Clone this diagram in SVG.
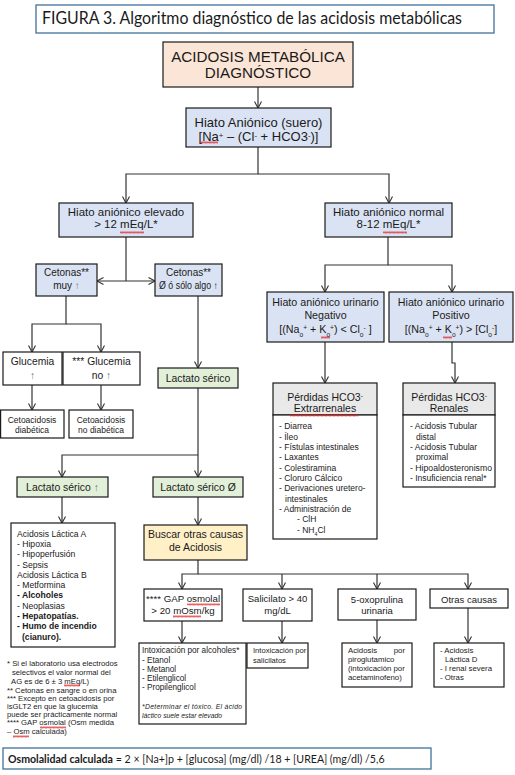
<svg xmlns="http://www.w3.org/2000/svg" width="515" height="775" viewBox="0 0 515 775">
<defs>
<marker id="ah" viewBox="-8 -5 10 10" refX="0" refY="0" markerWidth="10" markerHeight="10" markerUnits="userSpaceOnUse" orient="auto-start-reverse">
<path d="M-6.5,-3.5 L0,0 L-6.5,3.5" fill="none" stroke="#333" stroke-width="1.1"/>
</marker>
<pattern id="wave" width="4" height="3" patternUnits="userSpaceOnUse"><path d="M0,2.5 L1,0.5 L2,2.5 L3,0.5 L4,2.5" fill="none" stroke="#e02020" stroke-width="0.7"/></pattern>
<style>
.b{fill:#fff;stroke:#1a1a1a;stroke-width:1.2}
.blue{fill:#DAE3F3}
.green{fill:#E2F0D9}
.gray{fill:#E9E9E9}
.peach{fill:#FBE5D6}
.yel{fill:#FFF0C8}
.t{font-family:"Liberation Sans",Arial,sans-serif;fill:#1a1a1a}
.c{text-anchor:middle}
.e{text-anchor:end}
.bd{font-weight:bold}
.sup{font-size:62%;baseline-shift:super}
.sup2{font-size:60%;baseline-shift:35%}
.sub{font-size:62%;baseline-shift:sub}
.ga{fill:#777}
.ln{fill:none;stroke:#333;stroke-width:1.2}
.ar{fill:none;stroke:#333;stroke-width:1.2;marker-end:url(#ah)}
.sq{fill:url(#wave)}
.frame{fill:#fff;stroke:#41719C;stroke-width:1.3}
</style>
</defs>
<rect width="515" height="775" fill="#fff"/>

<g id="title">
<rect class="frame" x="36" y="5" width="458" height="28"/>
<text x="42" y="24" font-family="Lato, 'Open Sans', sans-serif" font-size="17" textLength="420" lengthAdjust="spacingAndGlyphs" fill="#1a1a1a">FIGURA 3. Algoritmo diagnóstico de las acidosis metabólicas</text>
</g>

<g id="connectors">
<path class="ar" d="M258,87 V108"/>
<path class="ar" d="M258,147 V174 H126 V203"/>
<path class="ar" d="M258,174 H389 V203"/>
<path class="ln" d="M126,237 V281"/>
<path class="ar" d="M97,281 H155" marker-start="url(#ah)"/>
<path class="ar" d="M66,296 V324 H32 V352"/>
<path class="ar" d="M66,324 H101 V352"/>
<path class="ar" d="M32,385 V410"/>
<path class="ar" d="M101,385 V410"/>
<path class="ar" d="M198,296 V368"/>
<path class="ar" d="M198,388 V477"/>
<path class="ar" d="M198,455 H62 V477"/>
<path class="ar" d="M62,497 V523"/>
<path class="ar" d="M198,497 V525"/>
<path class="ar" d="M198,560 V574 H182 V589"/>
<path class="ar" d="M198,574 H468 V589"/>
<path class="ar" d="M282,574 V589"/>
<path class="ar" d="M377,574 V589"/>
<path class="ar" d="M182,621 V643"/>
<path class="ar" d="M282,621 V643"/>
<path class="ar" d="M377,620 V643"/>
<path class="ar" d="M468,608 V643"/>
<path class="ar" d="M388,237 V265 H325 V292"/>
<path class="ar" d="M388,265 H452 V292"/>
<path class="ar" d="M325,342 V383"/>
<path class="ar" d="M452,342 V363 H455 V383"/>
</g>

<g id="n-acidosis">
<rect class="b peach" x="163" y="42" width="190" height="45"/>
<text class="t c" x="258" y="62" font-size="15.2">ACIDOSIS METABÓLICA</text>
<text class="t c" x="258" y="78" font-size="15.2">DIAGNÓSTICO</text>
</g>

<g id="n-suero">
<rect class="b blue" x="186" y="108" width="145" height="39"/>
<text class="t c" x="258.5" y="126.5" font-size="13">Hiato Aniónico (suero)</text>
<text class="t c" x="258.5" y="140.5" font-size="13">[Na<tspan class="sup2">+</tspan> – (Cl<tspan class="sup2">-</tspan> + HCO3<tspan class="sup2">-</tspan>)]</text>
<rect class="sq" x="200" y="141" width="18" height="3"/>
</g>

<g id="n-elevado">
<rect class="b blue" x="59" y="203" width="134" height="34"/>
<text class="t c" x="126" y="216" font-size="11.5">Hiato aniónico elevado</text>
<text class="t c" x="126" y="228" font-size="11.5">&gt; 12 mEq/L*</text>
<rect class="sq" x="120" y="231" width="24" height="3"/>
</g>

<g id="n-normal">
<rect class="b blue" x="325" y="203" width="127" height="34"/>
<text class="t c" x="388.5" y="216" font-size="11.5">Hiato aniónico normal</text>
<text class="t c" x="388.5" y="228" font-size="11.5">8-12 mEq/L*</text>
<rect class="sq" x="383" y="231" width="24" height="3"/>
</g>

<g id="n-cetonas-muy">
<rect class="b blue" x="36" y="264" width="61" height="32"/>
<text class="t c" x="66.5" y="276" font-size="10">Cetonas**</text>
<text class="t c" x="66.5" y="289" font-size="10">muy <tspan class="ga">↑</tspan></text>
</g>

<g id="n-cetonas-algo">
<rect class="b blue" x="155" y="264" width="67" height="32"/>
<text class="t c" x="188.5" y="276" font-size="10">Cetonas**</text>
<text class="t c" x="188.5" y="289" font-size="10" textLength="59" lengthAdjust="spacingAndGlyphs">Ø ó sólo algo ↑</text>
</g>

<g id="n-glucemia">
<rect class="b" x="3" y="352" width="59" height="33"/>
<text class="t c" x="32.5" y="365" font-size="10.3">Glucemia</text>
<text class="t c ga" x="32.5" y="379" font-size="10.3">↑</text>
</g>

<g id="n-glucemia-no">
<rect class="b" x="63" y="352" width="77" height="33"/>
<text class="t c" x="101.5" y="365" font-size="10.3">*** Glucemia</text>
<text class="t c" x="101.5" y="379" font-size="10.3">no <tspan class="ga">↑</tspan></text>
</g>

<g id="n-cad">
<rect class="b" x="0.6" y="410" width="63.4" height="28"/>
<text class="t c" x="32" y="423" font-size="8.5">Cetoacidosis</text>
<text class="t c" x="32" y="432.5" font-size="8.5">diabética</text>
</g>

<g id="n-cand">
<rect class="b" x="69" y="410" width="64" height="28"/>
<text class="t c" x="101" y="423" font-size="8.5">Cetoacidosis</text>
<text class="t c" x="101" y="432.5" font-size="8.5">no diabética</text>
</g>

<g id="n-lactato">
<rect class="b green" x="158" y="368" width="80" height="20"/>
<text class="t c" x="198" y="381.5" font-size="10.4">Lactato sérico</text>
</g>

<g id="n-lactato-alto">
<rect class="b green" x="17" y="477" width="91" height="20"/>
<text class="t c" x="62.5" y="490.5" font-size="10.4">Lactato sérico <tspan class="ga">↑</tspan></text>
</g>

<g id="n-lactato-normal">
<rect class="b green" x="153" y="477" width="90" height="20"/>
<text class="t c" x="198" y="490.5" font-size="10.4">Lactato sérico Ø</text>
</g>

<g id="n-lactica">
<rect class="b" x="11" y="523" width="104" height="124"/>
<g class="t" font-size="8.6">
<text x="17" y="537">Acidosis Láctica A</text>
<text x="17" y="547">- Hipoxia</text>
<text x="17" y="557">- Hipoperfusión</text>
<text x="17" y="567.5">- Sepsis</text>
<text x="17" y="577.5">Acidosis Láctica B</text>
<text x="17" y="588">- Metformina</text>
<text x="17" y="598" class="bd">- Alcoholes</text>
<text x="17" y="608.5">- Neoplasias</text>
<text x="17" y="619" class="bd">- Hepatopatías.</text>
<text x="17" y="629" class="bd">- Humo de incendio</text>
<text x="22" y="639.5" class="bd">(cianuro).</text>
</g>
</g>

<g id="n-buscar">
<rect class="b yel" x="144" y="525" width="103" height="35"/>
<text class="t c" x="195.5" y="538" font-size="10.5">Buscar otras causas</text>
<text class="t c" x="195.5" y="551" font-size="10.5">de Acidosis</text>
</g>

<g id="n-gap">
<rect class="b" x="144" y="589" width="78" height="32"/>
<text class="t c" x="183" y="602" font-size="9.7">**** GAP osmolal</text>
<text class="t c" x="183" y="614" font-size="9.7">&gt; 20 mOsm/kg</text>
<rect class="sq" x="187" y="603" width="33" height="3"/>
<rect class="sq" x="173" y="615" width="28" height="3"/>
</g>

<g id="n-salicilato">
<rect class="b" x="243" y="589" width="69" height="32"/>
<text class="t c" x="277.5" y="602" font-size="9.5">Salicilato &gt; 40</text>
<text class="t c" x="277.5" y="614" font-size="9.5">mg/dL</text>
</g>

<g id="n-oxoprolina">
<rect class="b" x="338" y="589" width="78" height="31"/>
<text class="t c" x="377" y="603" font-size="9.5">5-oxoprulina</text>
<text class="t c" x="377" y="614" font-size="9.5">urinaria</text>
</g>

<g id="n-otras">
<rect class="b" x="430" y="589" width="78" height="19"/>
<text class="t c" x="469" y="602.5" font-size="9.5">Otras causas</text>
</g>

<g id="n-alcoholes">
<rect class="b" x="139" y="643" width="107" height="81"/>
<g class="t" font-size="8.2">
<text x="142" y="653">Intoxicación por alcoholes*</text>
<text x="142" y="662.5">- Etanol</text>
<text x="142" y="671.5">- Metanol</text>
<text x="142" y="680.5">- Etilenglicol</text>
<text x="142" y="689.5">- Propilenglicol</text>
</g>
<text class="t" x="142" y="709" font-size="6.8" font-style="italic" textLength="100" lengthAdjust="spacing">*Determinar el tóxico. El ácido</text>
<text class="t" x="142" y="718" font-size="6.8" font-style="italic">láctico suele estar elevado</text>
</g>

<g id="n-salicilatos">
<rect class="b" x="247" y="643" width="61" height="25"/>
<text class="t" x="253" y="653" font-size="7.6">Intoxicación por</text>
<text class="t" x="253" y="662.5" font-size="7.6">salicilatos</text>
</g>

<g id="n-piroglutamico">
<rect class="b" x="342" y="643" width="70" height="44"/>
<g class="t" font-size="7.8">
<text x="348" y="653">Acidosis</text>
<text x="405" y="653" class="e">por</text>
<text x="348" y="662">piroglutamico</text>
<text x="348" y="671">(intoxicación por</text>
<text x="348" y="680">acetaminofeno)</text>
</g>
</g>

<g id="n-otras-lista">
<rect class="b" x="434" y="643" width="70" height="44"/>
<g class="t" font-size="7.8">
<text x="440" y="653">- Acidosis</text>
<text x="445" y="662">Láctica D</text>
<text x="440" y="671">- I renal severa</text>
<text x="440" y="680">- Otras</text>
</g>
</g>

<g id="n-urinario-negativo">
<rect class="b blue" x="267" y="292" width="117" height="50"/>
<text class="t c" x="325.5" y="306" font-size="10.7">Hiato aniónico urinario</text>
<text class="t c" x="325.5" y="319" font-size="10.7">Negativo</text>
<text class="t c" x="325.5" y="333" font-size="10.7">[(Na<tspan class="sub">o</tspan><tspan class="sup">+</tspan> + K<tspan class="sub">o</tspan><tspan class="sup">+</tspan>) &lt; Cl<tspan class="sub">o</tspan><tspan class="sup">-</tspan> ]</text>
<rect class="sq" x="321" y="336" width="9" height="3"/>
</g>

<g id="n-urinario-positivo">
<rect class="b blue" x="389" y="292" width="124" height="50"/>
<text class="t c" x="451" y="306" font-size="10.7">Hiato aniónico urinario</text>
<text class="t c" x="451" y="319" font-size="10.7">Positivo</text>
<text class="t c" x="451" y="333" font-size="10.7">[(Na<tspan class="sub">o</tspan><tspan class="sup">+</tspan> + K<tspan class="sub">o</tspan><tspan class="sup">+</tspan>) &gt; [Cl<tspan class="sub">o</tspan><tspan class="sup">-</tspan>]</text>
<rect class="sq" x="443" y="336" width="9" height="3"/>
</g>

<g id="n-extrarrenales">
<rect class="b gray" x="273" y="383" width="104" height="32"/>
<rect class="b" x="273" y="415" width="104" height="124"/>
<text class="t c" x="325" y="401" font-size="10.5">Pérdidas HCO3<tspan class="sup">-</tspan></text>
<text class="t c" x="325" y="412" font-size="10.5">Extrarrenales</text>
<rect class="sq" x="290" y="414" width="68" height="3"/>
<g class="t" font-size="8.5">
<text x="279" y="429">- Diarrea</text>
<text x="279" y="439.5">- Íleo</text>
<text x="279" y="450">- Fístulas intestinales</text>
<text x="279" y="460">- Laxantes</text>
<text x="279" y="470.5">- Colestiramina</text>
<text x="279" y="481">- Cloruro Cálcico</text>
<text x="279" y="491">- Derivaciones uretero-</text>
<text x="285" y="501.5">intestinales</text>
<text x="279" y="512">- Administración de</text>
<text x="297" y="522">- ClH</text>
<text x="297" y="532.5">- NH<tspan class="sub">4</tspan>Cl</text>
</g>
</g>

<g id="n-renales">
<rect class="b gray" x="403" y="383" width="92" height="32"/>
<rect class="b" x="403" y="415" width="92" height="72"/>
<text class="t c" x="449" y="401" font-size="10.5">Pérdidas HCO3<tspan class="sup">-</tspan></text>
<text class="t c" x="449" y="412" font-size="10.5">Renales</text>
<g class="t" font-size="8.5">
<text x="410" y="429">- Acidosis Tubular</text>
<text x="416" y="439.5">distal</text>
<text x="410" y="450">- Acidosis Tubular</text>
<text x="416" y="460">proximal</text>
<text x="410" y="470.5" textLength="82" lengthAdjust="spacingAndGlyphs">- Hipoaldosteronismo</text>
<text x="410" y="481">- Insuficiencia renal*</text>
</g>
</g>

<g id="notes" class="t" font-size="7.7">
<text x="7" y="666">* Si el laboratorio usa electrodos</text>
<text x="12" y="675">selectivos el valor normal del</text>
<text x="11" y="684">AG es de 6 ± 3 mEq/L)</text>
<text x="7" y="692.5">** Cetonas en sangre o en orina</text>
<text x="7" y="700.5">*** Excepto en cetoacidosis por</text>
<text x="7" y="709">isGLT2 en que la glucemia</text>
<text x="7" y="717">puede ser prácticamente normal</text>
<text x="7" y="725">**** GAP osmolal (Osm medida</text>
<text x="7" y="733.5">– Osm calculada)</text>
<rect class="sq" x="64" y="684" width="16" height="3"/>
<rect class="sq" x="40" y="726" width="26" height="3"/>
<rect class="sq" x="13" y="735" width="16" height="3"/>
</g>

<g id="formula">
<rect class="frame" x="3" y="748" width="428" height="21"/>
<text x="8" y="762.5" font-family="Lato, 'Open Sans', sans-serif" font-size="10.6" fill="#1a1a1a"><tspan font-weight="bold">Osmolalidad calculada</tspan> = 2 × [Na+]p + [glucosa] (mg/dl) /18 + [UREA] (mg/dl) /5,6</text>
</g>
</svg>
